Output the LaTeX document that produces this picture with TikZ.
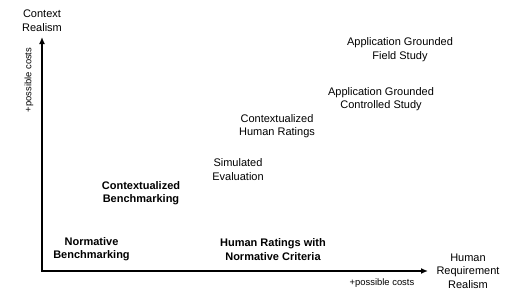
\documentclass[tikz,border=0pt]{standalone}
\usepackage{fontspec}
\setmainfont{Liberation Sans}
\usetikzlibrary{arrows.meta}
\begin{document}
\begin{tikzpicture}[x=1pt,y=-1pt,
  lbl/.style={align=center,inner sep=0pt,font=\fontsize{11}{13.6}\selectfont},
  blbl/.style={align=center,inner sep=0pt,font=\fontsize{11}{13.6}\selectfont\bfseries},
  cost/.style={inner sep=0pt,font=\fontsize{9.4}{11}\selectfont},
  axis/.style={line width=1.4pt,{Latex[length=7pt,width=6pt]}-{Latex[length=7pt,width=6pt]}}]
\useasboundingbox (0,0) rectangle (506,300);
\coordinate (o) at (42,271);
\coordinate (ytop) at (42,37);
\coordinate (xend) at (428,271);
\draw[axis] (ytop) -- (o) -- (xend);
\node[lbl] (ctx) at (42,20.5) {Context\\Realism};
\node[lbl] (hrr) at (468,271) {Human\\Requirement\\Realism};
\node[cost,rotate=90] (costy) at (29,80) {+possible costs};
\node[cost] (costx) at (382,283) {+possible costs};
\node[blbl] (nb) at (91.5,249) {Normative\\Benchmarking};
\node[blbl] (cb) at (141,193) {Contextualized\\Benchmarking};
\node[blbl] (hr) at (273,249.5) {Human Ratings with\\Normative Criteria};
\node[lbl] (se) at (238,169.5) {Simulated\\Evaluation};
\node[lbl] (chr) at (277,126) {Contextualized\\Human Ratings};
\node[lbl] (agc) at (381,99) {Application Grounded\\Controlled Study};
\node[lbl] (agf) at (400,49.5) {Application Grounded\\Field Study};
\end{tikzpicture}
\end{document}
